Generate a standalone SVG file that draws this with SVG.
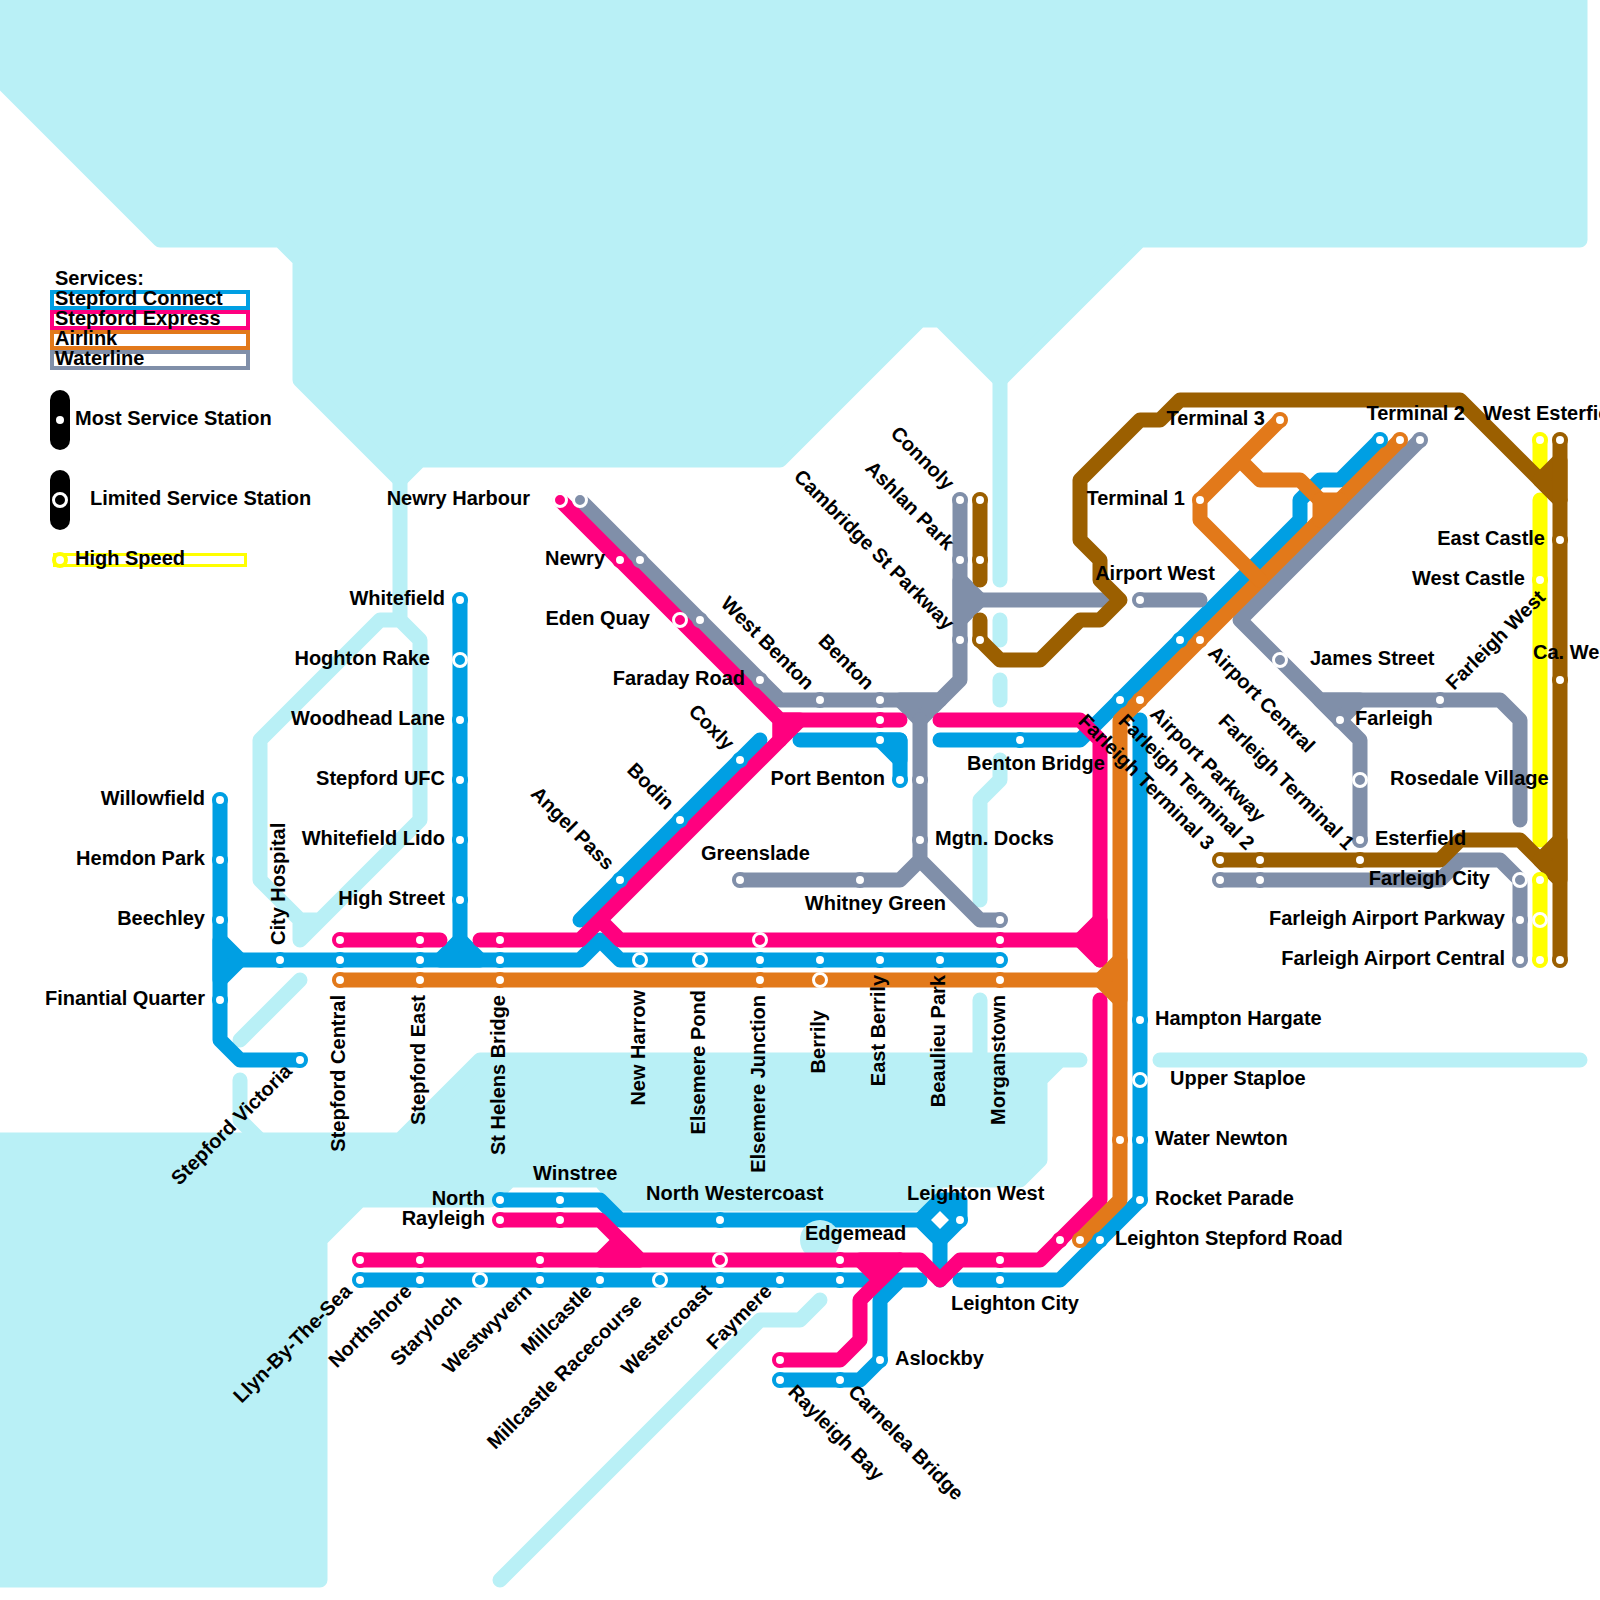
<svg xmlns="http://www.w3.org/2000/svg" width="1600" height="1600" viewBox="0 0 1600 1600">
<style>
text{font-family:"Liberation Sans",Arial,sans-serif;font-weight:700;font-size:20px;fill:#000}
.e{text-anchor:end}.m{text-anchor:middle}
.w{fill:#b9f0f6;stroke:#b9f0f6;stroke-width:15;stroke-linejoin:round;stroke-linecap:round}
.wl{fill:none;stroke:#b9f0f6;stroke-width:15;stroke-linejoin:round;stroke-linecap:round}
#connectors path{fill:none;stroke-width:15;stroke-linejoin:round;stroke-linecap:round}
#connectors path.jB{fill:#009fe3}#connectors path.jP{fill:#ff007f}#connectors path.jO{fill:#e2791a}#connectors path.jG{fill:#808fa9}#connectors path.jR{fill:#9b5f00}
.B{stroke:#009fe3}.P{stroke:#ff007f}.O{stroke:#e2791a}.G{stroke:#808fa9}.R{stroke:#9b5f00}.Y{stroke:#ff0}
circle.s{fill:#fff;stroke-width:4}
circle.l{stroke:#fff;stroke-width:3}
.fB{fill:#009fe3}.fP{fill:#ff007f}.fO{fill:#e2791a}.fG{fill:#808fa9}.fR{fill:#9b5f00}.fY{fill:#ff0}.fK{fill:#000}
.lg{fill:none;stroke-width:4}
</style>
<g id="water">
<path class="w" d="M-10-10H1580V240H1140L1000 380 940 320H920L780 460H420L400 480 300 380V260L280 240H160L-10 70Z"/>
<path class="wl" d="M1000 380V580M1000 620V640M1000 680V700M1000 760V780L980 800V900M980 1000V1060"/>
<path class="wl" d="M400 480V620L420 640V820L300 940V920M400 620H380L260 740V880L300 920H320"/>
<path class="wl" d="M300 980 240 1040M240 1080V1120L260 1140M1160 1060H1580M500 1580 760 1320H800L820 1300"/>
<path class="w" d="M-10 1140H400L480 1060H1080H1060L1040 1080V1160L1020 1180H940L916 1204H620L600 1180H510L490 1200H360L320 1240V1580H-10Z"/>
</g>
<g id="legend">
<text x="55" y="285">Services:</text>
<rect class="lg B" x="52" y="292" width="196" height="16"/>
<rect class="lg P" x="52" y="312" width="196" height="16"/>
<rect class="lg O" x="52" y="332" width="196" height="16"/>
<rect class="lg G" x="52" y="352" width="196" height="16"/>
<text x="55" y="305">Stepford Connect</text>
<text x="55" y="325">Stepford Express</text>
<text x="55" y="345">Airlink</text>
<text x="55" y="365">Waterline</text>
<rect class="fK" x="50" y="390" width="20" height="60" rx="10"/>
<circle cx="60" cy="420" r="4" fill="#fff"/>
<text x="75" y="425">Most Service Station</text>
<rect class="fK" x="50" y="470" width="20" height="60" rx="10"/>
<circle class="l fK" cx="60" cy="500" r="6.5"/>
<text x="90" y="505">Limited Service Station</text>
<rect class="Y" x="54.500" y="554.500" width="191" height="11" fill="none" stroke-width="3"/>
<circle class="s Y" cx="60" cy="560" r="6"/>
<text x="75" y="565">High Speed</text>
</g>
<g id="connectors">
<path class="Y" d="M1540 440V480M1540 500V840M1540 880V960"/>
<path class="B" d="M220 800V1040L240 1060H300M240 960H580L600 940 620 960H1000"/>
<path class="B jB" d="M220 940 240 960 220 980Z"/>
<path class="B" d="M460 600V940"/>
<path class="B jB" d="M440 960 460 940 480 960Z"/>
<path class="B" d="M580 920 760 740M800 740H900V780"/>
<path class="B jB" d="M880 740H900V760Z"/>
<path class="B" d="M940 740H1080L1300 520V500L1320 480H1340L1380 440"/>
<path class="B" d="M1140 720V1200L1060 1280H960"/>
<path class="B" d="M500 1200H600L620 1220H920L940 1240V1280"/>
<path class="B jB" d="M920 1220 940 1200H960V1220L940 1240Z"/>
<path d="M940 1211 949 1220 940 1229 931 1220Z" style="fill:#fff;stroke:none"/>
<path class="B" d="M360 1280H920M900 1280 880 1300V1360L860 1380H780"/>
<circle cx="820" cy="1240" r="20" fill="#b9f0f6"/>
<path class="G" d="M580 500 780 700H940L960 680V500M960 600H1110M1140 600H1200"/>
<path class="G jG" d="M960 580 980 600 960 620Z"/>
<path class="G jG" d="M900 700 920 720 940 700Z"/>
<path class="G" d="M920 720V860L900 880H740M920 860 980 920H1000"/>
<path class="G" d="M1420 440 1240 620 1360 740V840M1320 700H1500L1520 720V820"/>
<path class="G jG" d="M1320 700H1360L1340 720Z"/>
<path class="G" d="M1220 880H1440L1460 860H1500L1520 880V960"/>
<path class="P" d="M340 940H440M480 940H580L780 740V720M560 500 780 720H900M600 920 620 940H1080M1100 740V960M940 720H1080L1100 740"/>
<path class="P jP" d="M780 720H800L780 740Z"/>
<path class="P jP" d="M1100 920 1080 940 1100 960Z"/>
<path class="P" d="M1100 1000V1200L1040 1260H960L940 1280 920 1260H360M500 1220H600L640 1260"/>
<path class="P jP" d="M600 1260 620 1240 640 1260Z"/>
<path class="P" d="M900 1260 860 1300V1340L840 1360H780"/>
<path class="P jP" d="M860 1260 880 1280 900 1260Z"/>
<path class="O" d="M340 980H1100M1400 440 1120 720V1200L1080 1240"/>
<path class="O jO" d="M1100 980 1120 960V1000Z"/>
<path class="O" d="M1280 420 1200 500V520L1260 580M1240 460 1260 480H1300L1320 500"/>
<path class="O jO" d="M1320 500H1340L1320 520Z"/>
<path class="R" d="M980 500V580M980 620V640L1000 660H1040L1080 620H1100L1120 600 1100 580V560L1080 540V480L1140 420H1160L1180 400H1460L1560 500"/>
<path class="R jR" d="M1560 460 1540 480 1560 500Z"/>
<path class="R" d="M1560 440V960M1220 860H1440L1460 840H1520L1560 880"/>
<path class="R jR" d="M1560 840 1540 860 1560 880Z"/>
</g>
<g id="nodes">
<g id="n-willowfield"><circle class="s B" cx="220" cy="800" r="6"/><text class="e" x="205" y="805">Willowfield</text></g>
<g id="n-hemdon-park"><circle class="s B" cx="220" cy="860" r="6"/><text class="e" x="205" y="865">Hemdon Park</text></g>
<g id="n-beechley"><circle class="s B" cx="220" cy="920" r="6"/><text class="e" x="205" y="925">Beechley</text></g>
<g id="n-finantial-quarter"><circle class="s B" cx="220" cy="1000" r="6"/><text class="e" x="205" y="1005">Finantial Quarter</text></g>
<g id="n-city-hospital"><circle class="s B" cx="280" cy="960" r="6"/><text transform="translate(285 945) rotate(-90)">City Hospital</text></g>
<g id="n-stepford-victoria"><circle class="s B" cx="300" cy="1060" r="6"/><text class="e" transform="translate(293 1072.500) rotate(-45)">Stepford Victoria</text></g>
<g id="n-stepford-central"><circle class="s P" cx="340" cy="940" r="6"/><circle class="s B" cx="340" cy="960" r="6"/><circle class="s O" cx="340" cy="980" r="6"/><text class="e" transform="translate(345 995) rotate(-90)">Stepford Central</text></g>
<g id="n-stepford-east"><circle class="s P" cx="420" cy="940" r="6"/><circle class="s B" cx="420" cy="960" r="6"/><circle class="s O" cx="420" cy="980" r="6"/><text class="e" transform="translate(425 995) rotate(-90)">Stepford East</text></g>
<g id="n-st-helens-bridge"><circle class="s P" cx="500" cy="940" r="6"/><circle class="s B" cx="500" cy="960" r="6"/><circle class="s O" cx="500" cy="980" r="6"/><text class="e" transform="translate(505 995) rotate(-90)">St Helens Bridge</text></g>
<g id="n-new-harrow"><circle class="l fB" cx="640" cy="960" r="6.5"/><text class="e" transform="translate(645 990) rotate(-90)">New Harrow</text></g>
<g id="n-elsemere-pond"><circle class="l fB" cx="700" cy="960" r="6.5"/><text class="e" transform="translate(705 990) rotate(-90)">Elsemere Pond</text></g>
<g id="n-elsemere-junction"><circle class="l fP" cx="760" cy="940" r="6.5"/><circle class="s B" cx="760" cy="960" r="6"/><circle class="s O" cx="760" cy="980" r="6"/><text class="e" transform="translate(765 995) rotate(-90)">Elsemere Junction</text></g>
<g id="n-berrily"><circle class="s B" cx="820" cy="960" r="6"/><circle class="l fO" cx="820" cy="980" r="6.5"/><text class="e" transform="translate(825 1010) rotate(-90)">Berrily</text></g>
<g id="n-east-berrily"><circle class="s B" cx="880" cy="960" r="6"/><text class="e" transform="translate(885 975) rotate(-90)">East Berrily</text></g>
<g id="n-beaulieu-park"><circle class="s B" cx="940" cy="960" r="6"/><text class="e" transform="translate(945 975) rotate(-90)">Beaulieu Park</text></g>
<g id="n-morganstown"><circle class="s P" cx="1000" cy="940" r="6"/><circle class="s B" cx="1000" cy="960" r="6"/><circle class="s O" cx="1000" cy="980" r="6"/><text class="e" transform="translate(1005 995) rotate(-90)">Morganstown</text></g>
<g id="n-whitefield"><circle class="s B" cx="460" cy="600" r="6"/><text class="e" x="445" y="605">Whitefield</text></g>
<g id="n-hoghton-rake"><circle class="l fB" cx="460" cy="660" r="6.5"/><text class="e" x="430" y="665">Hoghton Rake</text></g>
<g id="n-woodhead-lane"><circle class="s B" cx="460" cy="720" r="6"/><text class="e" x="445" y="725">Woodhead Lane</text></g>
<g id="n-stepford-ufc"><circle class="s B" cx="460" cy="780" r="6"/><text class="e" x="445" y="785">Stepford UFC</text></g>
<g id="n-whitefield-lido"><circle class="s B" cx="460" cy="840" r="6"/><text class="e" x="445" y="845">Whitefield Lido</text></g>
<g id="n-high-street"><circle class="s B" cx="460" cy="900" r="6"/><text class="e" x="445" y="905">High Street</text></g>
<g id="n-newry-harbour"><circle class="l fP" cx="560" cy="500" r="6.5"/><circle class="l fG" cx="580" cy="500" r="6.5"/><text class="e" x="530" y="505">Newry Harbour</text></g>
<g id="n-newry"><circle class="s P" cx="620" cy="560" r="6"/><circle class="s G" cx="640" cy="560" r="6"/><text class="e" x="605" y="565">Newry</text></g>
<g id="n-eden-quay"><circle class="l fP" cx="680" cy="620" r="6.5"/><circle class="s G" cx="700" cy="620" r="6"/><text class="e" x="650" y="625">Eden Quay</text></g>
<g id="n-faraday-road"><circle class="s G" cx="760" cy="680" r="6"/><text class="e" x="745" y="685">Faraday Road</text></g>
<g id="n-west-benton"><circle class="s G" cx="820" cy="700" r="6"/><text class="e" transform="translate(806 691) rotate(45)">West Benton</text></g>
<g id="n-benton"><circle class="s G" cx="880" cy="700" r="6"/><circle class="s P" cx="880" cy="720" r="6"/><text class="e" transform="translate(866 691) rotate(45)">Benton</text></g>
<g id="n-coxly"><circle class="s B" cx="740" cy="760" r="6"/><text class="e" transform="translate(726 751) rotate(45)">Coxly</text></g>
<g id="n-bodin"><circle class="s B" cx="680" cy="820" r="6"/><text class="e" transform="translate(666 811) rotate(45)">Bodin</text></g>
<g id="n-angel-pass"><circle class="s B" cx="620" cy="880" r="6"/><text class="e" transform="translate(606 871) rotate(45)">Angel Pass</text></g>
<g id="n-port-benton"><circle class="s B" cx="880" cy="740" r="6"/><circle class="s B" cx="900" cy="780" r="6"/><circle class="s G" cx="920" cy="780" r="6"/><text class="e" x="885" y="785">Port Benton</text></g>
<g id="n-greenslade"><circle class="s G" cx="740" cy="880" r="6"/><text x="701" y="860">Greenslade</text></g>
<g id="n-whitney-green"><circle class="s G" cx="860" cy="880" r="6"/><circle class="s G" cx="1000" cy="920" r="6"/><text class="e" x="946" y="910">Whitney Green</text></g>
<g id="n-mgtn-docks"><circle class="s G" cx="920" cy="840" r="6"/><text x="935" y="845">Mgtn. Docks</text></g>
<g id="n-connoly"><circle class="s G" cx="960" cy="500" r="6"/><circle class="s R" cx="980" cy="500" r="6"/><text class="e" transform="translate(946 491) rotate(45)">Connoly</text></g>
<g id="n-ashlan-park"><circle class="s G" cx="960" cy="560" r="6"/><circle class="s R" cx="980" cy="560" r="6"/><text class="e" transform="translate(946 551) rotate(45)">Ashlan Park</text></g>
<g id="n-cambridge-st-parkway"><circle class="s G" cx="960" cy="640" r="6"/><circle class="s R" cx="980" cy="640" r="6"/><text class="e" transform="translate(946 631) rotate(45)">Cambridge St Parkway</text></g>
<g id="n-benton-bridge"><circle class="s B" cx="1020" cy="740" r="6"/><text x="967" y="770">Benton Bridge</text></g>
<g id="n-airport-west"><circle class="s G" cx="1140" cy="600" r="6"/><text class="m" x="1155" y="580">Airport West</text></g>
<g id="n-airport-central"><circle class="s B" cx="1180" cy="640" r="6"/><circle class="s O" cx="1200" cy="640" r="6"/><text transform="translate(1207 654) rotate(45)">Airport Central</text></g>
<g id="n-airport-parkway"><circle class="s B" cx="1120" cy="700" r="6"/><circle class="s O" cx="1140" cy="700" r="6"/><text transform="translate(1149 715) rotate(45)">Airport Parkway</text></g>
<g id="n-terminal-1"><circle class="s O" cx="1200" cy="500" r="6"/><text class="e" x="1185" y="505">Terminal 1</text></g>
<g id="n-terminal-3"><circle class="s O" cx="1280" cy="420" r="6"/><text class="e" x="1265" y="425">Terminal 3</text></g>
<g id="n-terminal-2"><circle class="s B" cx="1380" cy="440" r="6"/><circle class="s O" cx="1400" cy="440" r="6"/><circle class="s G" cx="1420" cy="440" r="6"/><text class="e" x="1465" y="420">Terminal 2</text></g>
<g id="n-west-esterfield"><circle class="s Y" cx="1540" cy="440" r="6"/><circle class="s R" cx="1560" cy="440" r="6"/><text x="1483" y="420">West Esterfield</text></g>
<g id="n-east-castle"><circle class="s R" cx="1560" cy="540" r="6"/><text class="e" x="1545" y="545">East Castle</text></g>
<g id="n-west-castle"><circle class="s Y" cx="1540" cy="580" r="6"/><text class="e" x="1525" y="585">West Castle</text></g>
<g id="n-ca-west"><circle class="s R" cx="1560" cy="680" r="6"/><text x="1533" y="659">Ca. West</text></g>
<g id="n-james-street"><circle class="l fG" cx="1280" cy="660" r="6.5"/><text x="1310" y="665">James Street</text></g>
<g id="n-farleigh-west"><circle class="s G" cx="1440" cy="700" r="6"/><text transform="translate(1454 691) rotate(-45)">Farleigh West</text></g>
<g id="n-farleigh"><circle class="s G" cx="1340" cy="720" r="6"/><text x="1355" y="725">Farleigh</text></g>
<g id="n-rosedale-village"><circle class="l fG" cx="1360" cy="780" r="6.5"/><text x="1390" y="785">Rosedale Village</text></g>
<g id="n-esterfield"><circle class="s G" cx="1360" cy="840" r="6"/><text x="1375" y="845">Esterfield</text></g>
<g id="n-farleigh-terminal-1"><circle class="s R" cx="1360" cy="860" r="6"/><text class="e" transform="translate(1346 851) rotate(45)">Farleigh Terminal 1</text></g>
<g id="n-farleigh-terminal-2"><circle class="s R" cx="1260" cy="860" r="6"/><circle class="s G" cx="1260" cy="880" r="6"/><text class="e" transform="translate(1246 851) rotate(45)">Farleigh Terminal 2</text></g>
<g id="n-farleigh-terminal-3"><circle class="s R" cx="1220" cy="860" r="6"/><circle class="s G" cx="1220" cy="880" r="6"/><text class="e" transform="translate(1206 851) rotate(45)">Farleigh Terminal 3</text></g>
<g id="n-farleigh-city"><circle class="l fG" cx="1520" cy="880" r="6.5"/><circle class="s Y" cx="1540" cy="880" r="6"/><text class="e" x="1490" y="885">Farleigh City</text></g>
<g id="n-farleigh-airport-parkway"><circle class="s G" cx="1520" cy="920" r="6"/><circle class="l fY" cx="1540" cy="920" r="6.5"/><text class="e" x="1505" y="925">Farleigh Airport Parkway</text></g>
<g id="n-farleigh-airport-central"><circle class="s G" cx="1520" cy="960" r="6"/><circle class="s Y" cx="1540" cy="960" r="6"/><circle class="s R" cx="1560" cy="960" r="6"/><text class="e" x="1505" y="965">Farleigh Airport Central</text></g>
<g id="n-hampton-hargate"><circle class="s B" cx="1140" cy="1020" r="6"/><text x="1155" y="1025">Hampton Hargate</text></g>
<g id="n-upper-staploe"><circle class="l fB" cx="1140" cy="1080" r="6.5"/><text x="1170" y="1085">Upper Staploe</text></g>
<g id="n-water-newton"><circle class="s O" cx="1120" cy="1140" r="6"/><circle class="s B" cx="1140" cy="1140" r="6"/><text x="1155" y="1145">Water Newton</text></g>
<g id="n-rocket-parade"><circle class="s B" cx="1140" cy="1200" r="6"/><text x="1155" y="1205">Rocket Parade</text></g>
<g id="n-leighton-stepford-road"><circle class="s P" cx="1060" cy="1240" r="6"/><circle class="s O" cx="1080" cy="1240" r="6"/><circle class="s B" cx="1100" cy="1240" r="6"/><text x="1115" y="1245">Leighton Stepford Road</text></g>
<g id="n-leighton-city"><circle class="s P" cx="1000" cy="1260" r="6"/><circle class="s B" cx="1000" cy="1280" r="6"/><text x="951" y="1310">Leighton City</text></g>
<g id="n-leighton-west"><circle class="s B" cx="960" cy="1220" r="6"/><text x="907" y="1200">Leighton West</text></g>
<g id="n-aslockby"><circle class="s B" cx="880" cy="1360" r="6"/><text x="895" y="1365">Aslockby</text></g>
<g id="n-carnelea-bridge"><circle class="s B" cx="840" cy="1380" r="6"/><text transform="translate(847 1393) rotate(45)">Carnelea Bridge</text></g>
<g id="n-rayleigh-bay"><circle class="s P" cx="780" cy="1360" r="6"/><circle class="s B" cx="780" cy="1380" r="6"/><text transform="translate(787 1393) rotate(45)">Rayleigh Bay</text></g>
<g id="n-edgemead"><circle class="s P" cx="840" cy="1260" r="6"/><circle class="s B" cx="840" cy="1280" r="6"/><text x="805" y="1240">Edgemead</text></g>
<g id="n-north-westercoast"><circle class="s B" cx="720" cy="1220" r="6"/><text x="646" y="1200">North Westercoast</text></g>
<g id="n-winstree"><circle class="s B" cx="560" cy="1200" r="6"/><circle class="s P" cx="560" cy="1220" r="6"/><text x="533" y="1180">Winstree</text></g>
<g id="n-north"><circle class="s B" cx="500" cy="1200" r="6"/><text class="e" x="485" y="1205">North</text></g>
<g id="n-rayleigh"><circle class="s P" cx="500" cy="1220" r="6"/><text class="e" x="485" y="1225">Rayleigh</text></g>
<g id="n-llyn-by-the-sea"><circle class="s P" cx="360" cy="1260" r="6"/><circle class="s B" cx="360" cy="1280" r="6"/><text class="e" transform="translate(353 1292.500) rotate(-45)">Llyn-By-The-Sea</text></g>
<g id="n-northshore"><circle class="s P" cx="420" cy="1260" r="6"/><circle class="s B" cx="420" cy="1280" r="6"/><text class="e" transform="translate(413 1292.500) rotate(-45)">Northshore</text></g>
<g id="n-staryloch"><circle class="l fB" cx="480" cy="1280" r="6.5"/><text class="e" transform="translate(463 1302.500) rotate(-45)">Staryloch</text></g>
<g id="n-westwyvern"><circle class="s P" cx="540" cy="1260" r="6"/><circle class="s B" cx="540" cy="1280" r="6"/><text class="e" transform="translate(533 1292.500) rotate(-45)">Westwyvern</text></g>
<g id="n-millcastle"><circle class="s B" cx="600" cy="1280" r="6"/><text class="e" transform="translate(593 1292.500) rotate(-45)">Millcastle</text></g>
<g id="n-millcastle-racecourse"><circle class="l fB" cx="660" cy="1280" r="6.5"/><text class="e" transform="translate(643 1302.500) rotate(-45)">Millcastle Racecourse</text></g>
<g id="n-westercoast"><circle class="l fP" cx="720" cy="1260" r="6.5"/><circle class="s B" cx="720" cy="1280" r="6"/><text class="e" transform="translate(713 1292.500) rotate(-45)">Westercoast</text></g>
<g id="n-faymere"><circle class="s B" cx="780" cy="1280" r="6"/><text class="e" transform="translate(773 1292.500) rotate(-45)">Faymere</text></g>
</g>
</svg>
